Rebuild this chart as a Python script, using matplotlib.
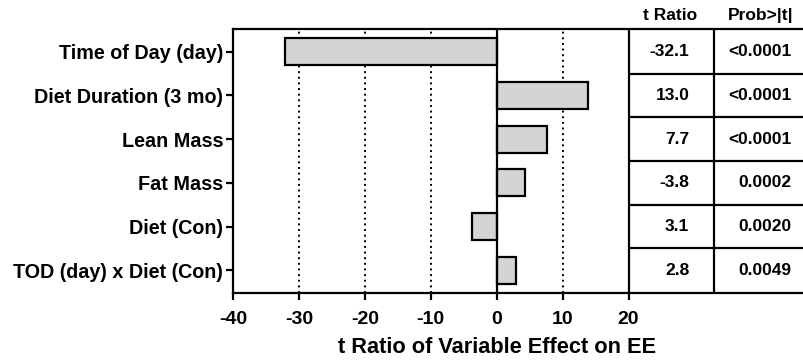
import matplotlib
matplotlib.use("Agg")
import matplotlib.pyplot as plt

categories = ["Time of Day (day)", "Diet Duration (3 mo)", "Lean Mass", "Fat Mass",
              "Diet (Con)", "TOD (day) x Diet (Con)"]
bar_values = [-32.1, 13.8, 7.6, 4.3, -3.8, 2.9]
t_ratio_text = ["-32.1", "13.0", "7.7", "-3.8", "3.1", "2.8"]
prob_text = ["<0.0001", "<0.0001", "<0.0001", "0.0002", "0.0020", "0.0049"]
xticks = [-40, -30, -20, -10, 0, 10, 20]
grid_x = [-30, -20, -10, 10]

plt.rcParams['font.family'] = ['Liberation Sans', 'DejaVu Sans']
plt.rcParams['font.weight'] = 'bold'

fig = plt.figure(figsize=(8.04, 3.63), dpi=100)
ax = fig.add_axes([233/804, 1-293/363, 1-233/804, (293-29)/363])

n = len(categories)
ypos = list(range(n))
ax.set_ylim(n - 0.48, -0.52)
ax.set_xlim(-40, 46.6)

for gx in grid_x:
    ax.axvline(gx, color='black', lw=1.4, linestyle=(0, (1, 1.9)), zorder=1)

ax.barh(ypos, bar_values, height=0.62, color='#d4d4d4', edgecolor='black',
        linewidth=1.6, zorder=3)
ax.axvline(0, color='black', lw=1.6, zorder=4)

# table
ax.axvline(20, color='black', lw=1.6, zorder=4)
ax.axvline(33.0, color='black', lw=1.6, zorder=4)
for i in range(n - 1):
    ax.plot([20, 46.6], [i + 0.5, i + 0.5], color='black', lw=1.6, zorder=4,
            clip_on=False, solid_capstyle='butt')
for i in range(n):
    ax.text(29.2, i, t_ratio_text[i], ha='right', va='center', fontsize=12.5,
            fontweight='bold')
    ax.text(44.7, i, prob_text[i], ha='right', va='center', fontsize=12.5,
            fontweight='bold')
trans = ax.get_xaxis_transform()
ax.text(26.3, 1.05, "t Ratio", transform=trans, ha='center', va='center',
        fontsize=12.5, fontweight='bold')
ax.text(40.0, 1.05, "Prob>|t|", transform=trans, ha='center', va='center',
        fontsize=12.5, fontweight='bold')

for s in ['left', 'top', 'bottom']:
    ax.spines[s].set_linewidth(1.6)
ax.spines['right'].set_visible(False)

ax.set_yticks(ypos)
ax.set_yticklabels(categories, fontsize=14.2, fontweight='bold')
ax.set_xticks(xticks)
ax.set_xticklabels([str(v) for v in xticks], fontsize=14, fontweight='bold')
ax.tick_params(axis='both', direction='out', length=5, width=1.6, pad=2)
ax.tick_params(axis='x', pad=8)
ax.set_xlabel("t Ratio of Variable Effect on EE", fontsize=15.7, fontweight='bold')
ax.xaxis.set_label_coords((497 - 233) / 571, -0.208)
ax.xaxis.label.set_horizontalalignment('center')
ax.xaxis.label.set_verticalalignment('center')

fig.savefig("out.png", dpi=100)
